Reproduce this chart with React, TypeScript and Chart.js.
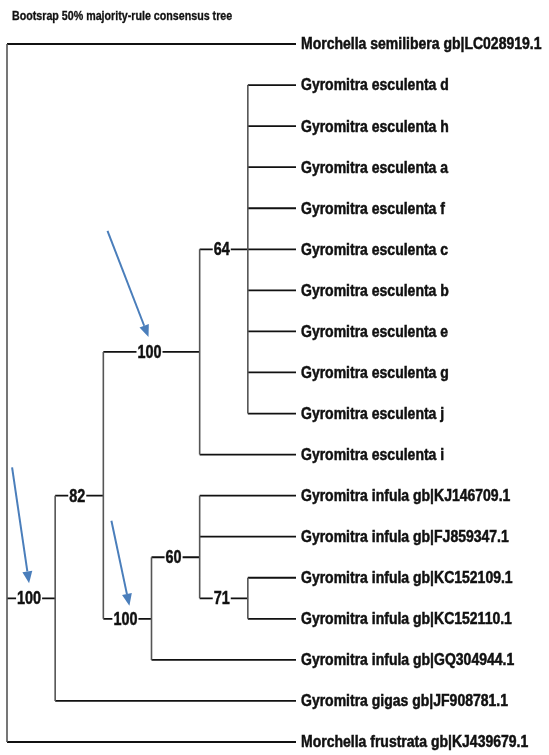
import React, { useEffect, useRef } from "react";
import { Chart, registerables } from "chart.js";
Chart.register(...registerables);

const TITLE = "Bootsrap 50% majority-rule consensus tree";

// Terminal taxa, top to bottom
const taxa = [
  "Morchella semilibera gb|LC028919.1",
  "Gyromitra esculenta d",
  "Gyromitra esculenta h",
  "Gyromitra esculenta a",
  "Gyromitra esculenta f",
  "Gyromitra esculenta c",
  "Gyromitra esculenta b",
  "Gyromitra esculenta e",
  "Gyromitra esculenta g",
  "Gyromitra esculenta j",
  "Gyromitra esculenta i",
  "Gyromitra infula gb|KJ146709.1",
  "Gyromitra infula gb|FJ859347.1",
  "Gyromitra infula gb|KC152109.1",
  "Gyromitra infula gb|KC152110.1",
  "Gyromitra infula gb|GQ304944.1",
  "Gyromitra gigas gb|JF908781.1",
  "Morchella frustrata gb|KJ439679.1",
];

// Clade children: tN = taxon N, cN = clade N (clade 0 is the root)
const cladeChildren = [
  "t0 c1 t17",
  "c2 t16",
  "c3 c5",
  "c4 t10",
  "t1 t2 t3 t4 t5 t6 t7 t8 t9",
  "c6 t15",
  "t11 t12 c7",
  "t13 t14",
];

// Bootstrap support values (%) per clade
const cladeSupport = ["", "100", "82", "100", "64", "100", "60", "71"];

// Clades highlighted with a blue arrow
const arrowedClades = [1, 3, 5];

type Pos = { x: number; y: number };

function layout() {
  const heights: Record<string, number> = {};
  const ys: Record<string, number> = {};
  const h = (id: string): number => {
    if (id[0] === "t") return 0;
    if (heights[id] !== undefined) return heights[id];
    const kids = cladeChildren[+id.slice(1)].split(" ");
    const v = 1 + Math.max(...kids.map(h));
    heights[id] = v;
    return v;
  };
  const y = (id: string): number => {
    if (id[0] === "t") return +id.slice(1);
    if (ys[id] !== undefined) return ys[id];
    const kids = cladeChildren[+id.slice(1)].split(" ").map(y);
    const v = Math.ceil(Math.min(...kids) + Math.max(...kids)) / 2;
    ys[id] = v;
    return v;
  };
  const maxH = h("c0");
  const pos = (id: string): Pos => ({ x: maxH - h(id), y: y(id) });
  const parent: Record<string, string> = {};
  cladeChildren.forEach((s, i) => s.split(" ").forEach((k) => (parent[k] = "c" + i)));
  return { pos, parent, maxH };
}

const SEP = { x: NaN, y: NaN };

function narrowText(ctx: CanvasRenderingContext2D, t: string, x: number, y: number, sx: number, heavy = 0) {
  ctx.save();
  ctx.translate(x, y);
  ctx.scale(sx, 1);
  ctx.fillText(t, 0, 0);
  if (heavy > 0) {
    ctx.lineWidth = heavy;
    ctx.strokeStyle = ctx.fillStyle as string;
    ctx.strokeText(t, 0, 0);
  }
  ctx.restore();
}

export default function App() {
  const ref = useRef<HTMLCanvasElement | null>(null);
  useEffect(() => {
    const { pos, parent, maxH } = layout();
    const horiz: any[] = [];
    const vert: any[] = [];
    cladeChildren.forEach((s, i) => {
      const me = pos("c" + i);
      const kids = s.split(" ").map(pos);
      const ky = kids.map((k) => k.y);
      vert.push({ x: me.x, y: Math.min(...ky) }, { x: me.x, y: Math.max(...ky) }, SEP);
      kids.forEach((k) => horiz.push({ x: me.x, y: k.y }, { x: k.x, y: k.y }, SEP));
    });

    const W = 549, H = 755;
    const pxX = (296 - 7) / maxH;
    const xMin = -7 / pxX;
    const pxY = (742 - 44) / (taxa.length - 1);
    const yMin = -44 / pxY;
    const FONT = "'Liberation Sans', Arial, sans-serif";

    const textPlugin = {
      id: "treeText",
      afterDatasetsDraw(chart: any) {
        const ctx = chart.ctx as CanvasRenderingContext2D;
        const xs = chart.scales.x, ysc = chart.scales.y;
        ctx.save();
        // title
        ctx.fillStyle = "#111";
        ctx.textBaseline = "middle";
        ctx.textAlign = "left";
        ctx.font = `bold 12px ${FONT}`;
        narrowText(ctx, TITLE, 12, 17, 0.89, 0.3);
        // taxa
        ctx.font = `bold 16px ${FONT}`;
        taxa.forEach((t, i) => {
          narrowText(ctx, t, xs.getPixelForValue(maxH) + 5, ysc.getPixelForValue(i) + 1, 0.875, 0.5);
        });
        // support values
        ctx.font = `bold 18px ${FONT}`;
        ctx.textAlign = "center";
        cladeSupport.forEach((s, i) => {
          if (!s) return;
          const id = "c" + i;
          const me = pos(id);
          const par = pos(parent[id]);
          const cx = (xs.getPixelForValue(me.x) + xs.getPixelForValue(par.x)) / 2 - 2;
          const cy = ysc.getPixelForValue(me.y);
          const w = ctx.measureText(s).width * 0.8;
          ctx.fillStyle = "#fff";
          ctx.fillRect(cx - w / 2 - 1, cy - 6, w + 2, 12);
          ctx.fillStyle = "#111";
          narrowText(ctx, s, cx, cy + 1, 0.8, 0.5);
          if (arrowedClades.includes(i)) {
            const k = arrowedClades.indexOf(i);
            const offs = [
              [-17, -131, 0, -15],
              [-42, -121, -1, -15],
              [-14, -98, 4, -13],
            ][k];
            const sx = cx + offs[0], sy = cy + offs[1];
            const tx = cx + offs[2], ty = cy + offs[3];
            const ang = Math.atan2(ty - sy, tx - sx);
            const hl = 12, hw = 5;
            const bx = tx - hl * Math.cos(ang), by = ty - hl * Math.sin(ang);
            ctx.strokeStyle = "#4a7ebb";
            ctx.fillStyle = "#4a7ebb";
            ctx.lineWidth = 2;
            ctx.beginPath();
            ctx.moveTo(sx, sy);
            ctx.lineTo(bx, by);
            ctx.stroke();
            ctx.beginPath();
            ctx.moveTo(tx, ty);
            ctx.lineTo(bx + hw * Math.sin(ang), by - hw * Math.cos(ang));
            ctx.lineTo(bx - hw * Math.sin(ang), by + hw * Math.cos(ang));
            ctx.closePath();
            ctx.fill();
          }
        });
        ctx.restore();
      },
    };

    const chart = new Chart(ref.current!, {
      type: "scatter",
      data: {
        datasets: [
          {
            label: "vertical",
            data: vert,
            showLine: true,
            spanGaps: false,
            borderColor: "#555",
            borderWidth: 1.6,
            pointRadius: 0,
            clip: false as any,
          },
          {
            label: "horizontal",
            data: horiz,
            showLine: true,
            spanGaps: false,
            borderColor: "#111",
            borderWidth: 1.8,
            pointRadius: 0,
            clip: false as any,
          },
        ],
      },
      options: {
        responsive: false,
        animation: false,
        layout: { padding: 0 },
        plugins: { legend: { display: false }, tooltip: { enabled: false } },
        scales: {
          x: { type: "linear", display: false, min: xMin, max: xMin + W / pxX },
          y: { type: "linear", display: false, reverse: true, min: yMin, max: yMin + H / pxY },
        },
      },
      plugins: [textPlugin],
    });
    return () => chart.destroy();
  }, []);
  return (
    <div style={{ position: "fixed", left: 0, top: 0, width: 549, height: 755, background: "#fff" }}>
      <canvas ref={ref} width={549} height={755} />
    </div>
  );
}
